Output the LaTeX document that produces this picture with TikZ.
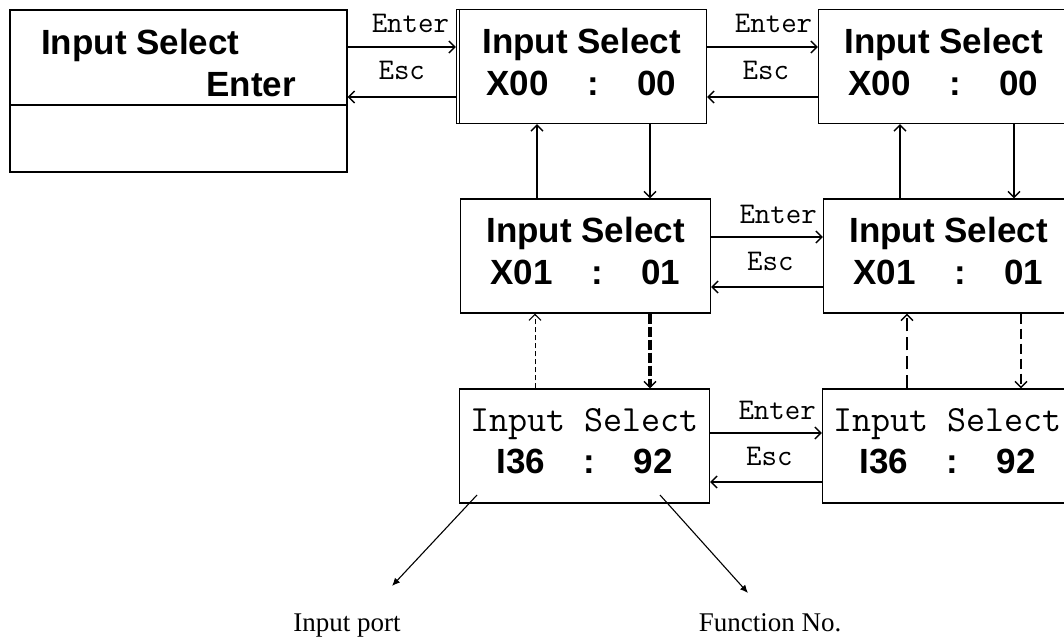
\documentclass[tikz,border=0pt]{standalone}
\usepackage{fontspec}
\newfontfamily\lcdfont{Liberation Sans}
\newfontfamily\notefont{Liberation Serif}
\usetikzlibrary{arrows.meta}

\tikzset{
    screen/.style={rectangle, draw, line width=1.4pt, minimum width=250pt, minimum height=114pt,
        inner sep=0pt, align=center, font=\lcdfont\bfseries\fontsize{35}{40}\selectfont},
    keyname/.style={font=\ttfamily\fontsize{30}{30}\selectfont, inner sep=0pt, anchor=base},
    link/.style={line width=1.3pt, -{Straight Barb[length=6pt,width=12pt]}},
    callout/.style={line width=1.1pt, -{Latex[length=8pt,width=7pt]}},
    note/.style={font=\notefont\fontsize{27}{27}\selectfont}
}

\newcommand{\lcdrow}[3]{#1\hspace{1.1em}#2\hspace{1.1em}#3}

\begin{document}
\begin{tikzpicture}[x=1pt, y=-1pt]
\clip (0,0) rectangle (1064,639);

% first menu screen
\node[screen, minimum width=337pt, minimum height=162pt] (menu) at (178.5,91) {};
\draw[line width=1.4pt] (menu.west |- 0,105) -- (menu.east |- 0,105);
\node[font=\lcdfont\bfseries\fontsize{35}{40}\selectfont, anchor=base west, inner sep=0pt] (menutitle) at (41,55) {Input Select};
\node[font=\lcdfont\bfseries\fontsize{35}{40}\selectfont, anchor=base east, inner sep=0pt] (menuenter) at (296,97) {Enter};

% screens
\node[screen] (x00a) at (581.5,66.5) {Input Select\\[2pt]\lcdrow{X00}{:}{00}\\[-30pt]};
\node[screen] (x00b) at (943.5,66.5) {Input Select\\[2pt]\lcdrow{X00}{:}{00}\\[-30pt]};
\node[screen] (x01a) at (585.5,256) {Input Select\\[2pt]\lcdrow{X01}{:}{01}\\[-30pt]};
\node[screen] (x01b) at (948.5,256) {Input Select\\[2pt]\lcdrow{X01}{:}{01}\\[-30pt]};
\node[screen] (i36a) at (584.5,446) {{\ttfamily\fontsize{37}{40}\selectfont\mdseries Input Select}\\[2pt]\lcdrow{I36}{:}{92}\\[-30pt]};
\node[screen] (i36b) at (947.5,446) {{\ttfamily\fontsize{37}{40}\selectfont\mdseries Input Select}\\[2pt]\lcdrow{I36}{:}{92}\\[-30pt]};
\draw[line width=1.4pt] ([xshift=3.5pt]x00a.north west) -- ([xshift=3.5pt]x00a.south west);

% Enter / Esc
\draw[link] (menu.east |- 0,47) -- node[keyname, pos=0.58, yshift=14pt] {Enter} (x00a.west |- 0,47);
\draw[link] (x00a.west |- 0,97) -- node[keyname, pos=0.5, yshift=17pt] {Esc} (menu.east |- 0,97);
\draw[link] (x00a.east |- 0,47) -- node[keyname, pos=0.6, yshift=14pt] {Enter} (x00b.west |- 0,47);
\draw[link] (x00b.west |- 0,97) -- node[keyname, pos=0.47, yshift=17pt] {Esc} (x00a.east |- 0,97);
\draw[link] (x01a.east |- 0,237) -- node[keyname, pos=0.6, yshift=14pt] {Enter} (x01b.west |- 0,237);
\draw[link] (x01b.west |- 0,287) -- node[keyname, pos=0.47, yshift=17pt] {Esc} (x01a.east |- 0,287);
\draw[link] (i36a.east |- 0,433) -- node[keyname, pos=0.6, yshift=14pt] {Enter} (i36b.west |- 0,433);
\draw[link] (i36b.west |- 0,482) -- node[keyname, pos=0.47, yshift=17pt] {Esc} (i36a.east |- 0,482);

% up / down
\draw[link] (x01a.north -| 537,0) -- (x00a.south -| 537,0);
\draw[link] (x00a.south -| 650,0) -- (x01a.north -| 650,0);
\draw[link] (x01b.north -| 900,0) -- (x00b.south -| 900,0);
\draw[link] (x00b.south -| 1014,0) -- (x01b.north -| 1014,0);
\draw[link, line width=1pt, dash pattern=on 5pt off 3pt] (i36a.north -| 535,0) -- (x01a.south -| 535,0);
\draw[link, line width=3.5pt, dash pattern=on 10pt off 3pt, -{Straight Barb[length=6pt,width=12pt,line width=1.3pt]}] (x01a.south -| 650,0) -- (i36a.north -| 650,0);
\draw[link, line width=2.6pt, dash pattern=on 13pt off 6pt, -{Straight Barb[length=6pt,width=12pt,line width=1.3pt]}] (i36b.north -| 907,0) -- (x01b.south -| 907,0);
\draw[link, line width=2.2pt, dash pattern=on 10pt off 5pt, -{Straight Barb[length=6pt,width=12pt,line width=1.3pt]}] (x01b.south -| 1021,0) -- (i36b.north -| 1021,0);

% notes
\node[note, anchor=base] (port) at (347,631) {Input port};
\node[note, anchor=base] (func) at (770,631) {Function No.};
\coordinate (portsrc) at (477,495);
\coordinate (porttip) at (392,586);
\coordinate (funcsrc) at (660,495);
\coordinate (functip) at (748,593);
\draw[callout] (portsrc) -- (porttip);
\draw[callout] (funcsrc) -- (functip);
\end{tikzpicture}
\end{document}
